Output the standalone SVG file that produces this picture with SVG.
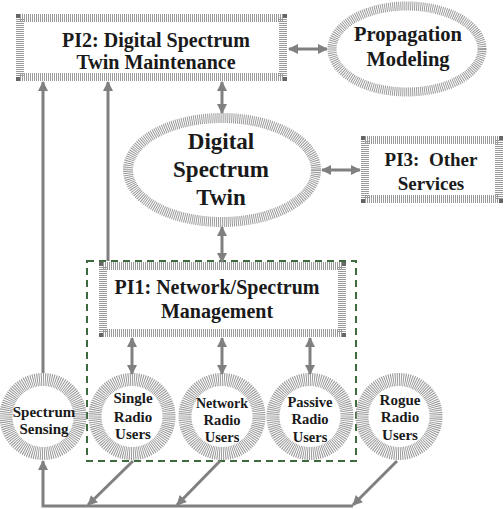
<svg xmlns="http://www.w3.org/2000/svg" width="504" height="509" viewBox="0 0 504 509">
<style>
.hat{fill:#fff;stroke:#9a9a9a;stroke-dasharray:1 1}
.cn{fill:#666}
.t{font-family:"Liberation Serif","Times New Roman",serif;font-weight:bold;fill:#1a1a1a;text-anchor:middle;white-space:pre}
.ln{fill:none;stroke:#808080;stroke-width:3}
.dash{fill:none;stroke:#3d6b3d;stroke-width:2;stroke-dasharray:7 5}
</style>
<defs>
<marker id="ah" viewBox="0 0 10 10" refX="9" refY="5" markerWidth="11" markerHeight="10" markerUnits="userSpaceOnUse" orient="auto-start-reverse">
<path d="M0,0 L10,5 L0,10 z" fill="#808080"/>
</marker>
</defs>
<rect class="dash" x="87" y="261" width="269" height="200"/>
<g id="pi2">
<rect class="hat" x="20" y="18" width="263" height="59" stroke-width="8"/>
<rect class="cn" x="16" y="14" width="4" height="4"/><rect class="cn" x="283" y="14" width="4" height="4"/>
<rect class="cn" x="16" y="77" width="4" height="4"/><rect class="cn" x="283" y="77" width="4" height="4"/>
<text class="t" x="156" y="47" font-size="20">PI2: Digital Spectrum</text>
<text class="t" x="156" y="69" font-size="20">Twin Maintenance</text>
</g>
<g id="prop">
<ellipse class="hat" cx="407" cy="49" rx="75" ry="43" stroke-width="9"/>
<text class="t" x="408" y="41" font-size="20.5">Propagation</text>
<text class="t" x="408" y="66" font-size="20.5">Modeling</text>
</g>
<g id="dst">
<ellipse class="hat" cx="222" cy="170" rx="94" ry="52" stroke-width="10"/>
<text class="t" x="221" y="149" font-size="23">Digital</text>
<text class="t" x="221" y="177" font-size="23">Spectrum</text>
<text class="t" x="221" y="205" font-size="23">Twin</text>
</g>
<g id="pi3">
<rect class="hat" x="365" y="140" width="134" height="59" stroke-width="8"/>
<rect class="cn" x="361" y="136" width="4" height="4"/><rect class="cn" x="499" y="136" width="4" height="4"/>
<rect class="cn" x="361" y="199" width="4" height="4"/><rect class="cn" x="499" y="199" width="4" height="4"/>
<text class="t" x="431" y="166" font-size="19">PI3:  Other</text>
<text class="t" x="431" y="190" font-size="19">Services</text>
</g>
<g id="pi1">
<rect class="hat" x="103" y="266" width="239" height="67" stroke-width="8"/>
<rect class="cn" x="99" y="262" width="4" height="4"/><rect class="cn" x="342" y="262" width="4" height="4"/>
<rect class="cn" x="99" y="333" width="4" height="4"/><rect class="cn" x="342" y="333" width="4" height="4"/>
<text class="t" x="217" y="294" font-size="20">PI1: Network/Spectrum</text>
<text class="t" x="217" y="318" font-size="20">Management</text>
</g>
<g id="ss">
<circle class="hat" cx="43" cy="416.5" r="37" stroke-width="13"/>
<text class="t" x="44" y="417" font-size="15">Spectrum</text>
<text class="t" x="44" y="434" font-size="15">Sensing</text>
</g>
<g id="single">
<circle class="hat" cx="132" cy="416.5" r="37" stroke-width="13"/>
<text class="t" x="133" y="403" font-size="15">Single</text>
<text class="t" x="133" y="422" font-size="15">Radio</text>
<text class="t" x="133" y="439" font-size="15">Users</text>
</g>
<g id="network">
<circle class="hat" cx="222" cy="416.5" r="37" stroke-width="13"/>
<text class="t" x="222" y="408" font-size="14">Network</text>
<text class="t" x="222" y="425" font-size="14.5">Radio</text>
<text class="t" x="222" y="442" font-size="14.5">Users</text>
</g>
<g id="passive">
<circle class="hat" cx="310" cy="416.5" r="37" stroke-width="13"/>
<text class="t" x="310" y="407" font-size="14.5">Passive</text>
<text class="t" x="310" y="424" font-size="14.5">Radio</text>
<text class="t" x="310" y="442" font-size="14.5">Users</text>
</g>
<g id="rogue">
<circle class="hat" cx="399" cy="416.5" r="37" stroke-width="13"/>
<text class="t" x="400" y="405" font-size="15">Rogue</text>
<text class="t" x="400" y="422" font-size="15">Radio</text>
<text class="t" x="400" y="440" font-size="15">Users</text>
</g>
<g id="connectors">
<line class="ln" x1="289" y1="49" x2="327" y2="49" marker-start="url(#ah)" marker-end="url(#ah)"/>
<line class="ln" x1="222" y1="82" x2="222" y2="113" marker-start="url(#ah)" marker-end="url(#ah)"/>
<line class="ln" x1="322" y1="170" x2="360" y2="170" marker-start="url(#ah)" marker-end="url(#ah)"/>
<line class="ln" x1="222" y1="227" x2="222" y2="262" marker-start="url(#ah)" marker-end="url(#ah)"/>
<line class="ln" x1="132" y1="338" x2="132" y2="374" marker-start="url(#ah)" marker-end="url(#ah)"/>
<line class="ln" x1="222" y1="338" x2="222" y2="374" marker-start="url(#ah)" marker-end="url(#ah)"/>
<line class="ln" x1="310" y1="338" x2="310" y2="374" marker-start="url(#ah)" marker-end="url(#ah)"/>
<line class="ln" x1="43" y1="373" x2="43" y2="82" marker-end="url(#ah)"/>
<line class="ln" x1="108" y1="261" x2="108" y2="82" marker-end="url(#ah)"/>
<path class="ln" d="M353,506 H43 V461" marker-end="url(#ah)"/>
<line class="ln" x1="133" y1="461" x2="88" y2="505" marker-end="url(#ah)"/>
<line class="ln" x1="220" y1="461" x2="177" y2="505" marker-end="url(#ah)"/>
<line class="ln" x1="397" y1="461" x2="353" y2="505" marker-end="url(#ah)"/>
</g>
</svg>
